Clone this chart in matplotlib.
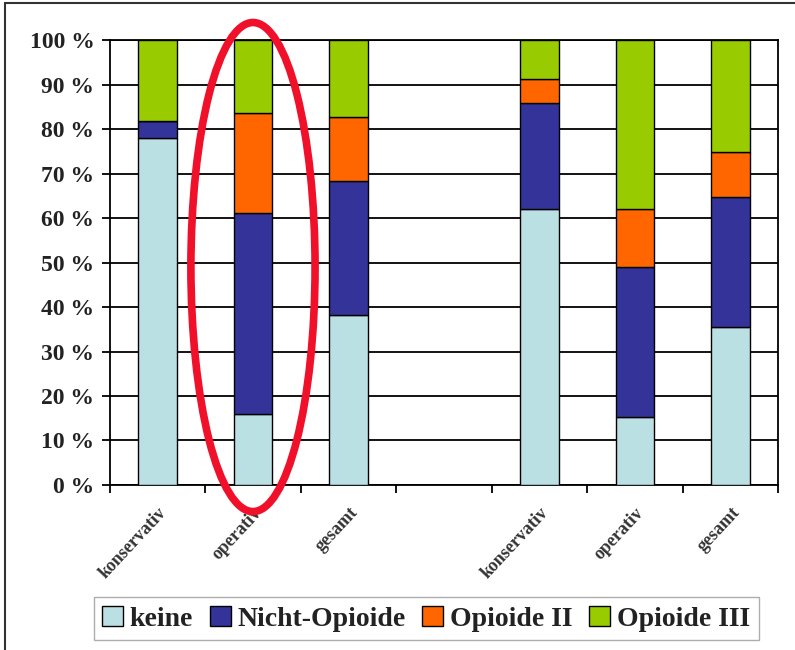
import matplotlib.pyplot as plt
import numpy as np
from matplotlib.patches import Ellipse, Rectangle

# categories (empty slot separates the two groups)
categories = ["konservativ", "operativ", "gesamt", "", "konservativ", "operativ", "gesamt"]
keine = [78.0, 16.0, 38.3, 0, 62.0, 15.3, 35.6]
nicht_opioide = [3.8, 45.2, 30.1, 0, 23.8, 33.7, 29.2]
opioide_2 = [0.0, 22.5, 14.4, 0, 5.4, 13.0, 10.0]
opioide_3 = [18.2, 16.3, 17.2, 0, 8.8, 38.0, 25.2]

series = [keine, nicht_opioide, opioide_2, opioide_3]
names = ["keine", "Nicht-Opioide", "Opioide II", "Opioide III"]
colors = ["#BBE0E3", "#333399", "#FF6600", "#99CC00"]

plt.rcParams['font.family'] = ['Liberation Serif', 'DejaVu Serif']

fig = plt.figure(figsize=(7.95, 6.5), dpi=100)
ax = fig.add_axes([0.138, 0.254, 0.841, 0.684])

x = np.arange(len(categories))
bars_x = [i for i in x if categories[i] != ""]
bottom = np.zeros(len(categories))
for vals, name, col in zip(series, names, colors):
    vals = np.array(vals, dtype=float)
    ax.bar(bars_x, vals[bars_x], 0.4, bottom=bottom[bars_x], color=col,
           edgecolor="black", linewidth=1.0, label=name, zorder=3)
    bottom += vals

ax.set_xlim(-0.5, len(categories) - 0.5)
ax.set_ylim(0, 100)
ax.set_yticks(range(0, 101, 10))
ax.set_yticklabels([f"{v} %" for v in range(0, 101, 10)], fontsize=17,
                   fontweight="bold", color="#222222")
ax.yaxis.grid(True, color="black", linewidth=1.3, zorder=0)
ax.tick_params(axis="y", length=6, width=1.3, pad=5)

ax.set_xticks(x)
ax.set_xticklabels(categories, rotation=47, ha="right", rotation_mode="anchor",
                   fontsize=13, fontweight="bold", color="#333333")
ax.tick_params(axis="x", which="major", length=0, pad=14)
ax.set_xticks(np.arange(-0.5, len(categories)), minor=True)
ax.tick_params(axis="x", which="minor", length=6, width=1.3)

for s in ["left", "right", "bottom", "top"]:
    ax.spines[s].set_linewidth(1.3)

# red marking around the operativ bar
ell = Ellipse((1, 49), 1.3, 110, fill=False, edgecolor="#F0102A", linewidth=5.5,
              clip_on=False, zorder=5)
ax.add_patch(ell)

# outer frame
fig.patches.append(Rectangle((0.006, -0.1), 1.2, 1.095, transform=fig.transFigure,
                             fill=False, edgecolor="#333333", linewidth=1.5))

leg = fig.legend(loc="lower center", bbox_to_anchor=(0.536, 0.0155), ncol=4,
                 frameon=True, fancybox=False, shadow=False, edgecolor="#999999",
                 prop={"size": 20, "weight": "bold"}, handlelength=0.75,
                 handleheight=0.75, handletextpad=0.25, columnspacing=0.6,
                 borderpad=0.3, borderaxespad=0)
for t in leg.get_texts():
    t.set_color("#222222")

fig.savefig("out.png", dpi=100)
